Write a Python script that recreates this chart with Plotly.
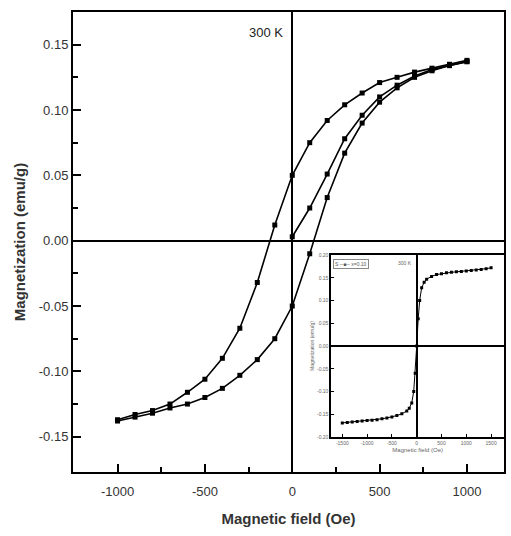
import plotly.graph_objects as go

# Main loop data (Oe, emu/g)
H_desc = [1000, 900, 800, 700, 600, 500, 400, 300, 200, 100, 0, -100, -200, -300, -400, -500, -600, -700, -800, -900, -1000]
M_desc = [0.138, 0.135, 0.132, 0.129, 0.125, 0.121, 0.113, 0.104, 0.092, 0.075, 0.050, 0.012, -0.032, -0.067, -0.090, -0.106, -0.116, -0.125, -0.130, -0.133, -0.137]

H_asc = [-1000, -900, -800, -700, -600, -500, -400, -300, -200, -100, 0, 100, 200, 300, 400, 500, 600, 700, 800, 900, 1000]
M_asc = [-0.138, -0.135, -0.132, -0.128, -0.125, -0.120, -0.113, -0.103, -0.091, -0.075, -0.050, -0.010, 0.033, 0.067, 0.090, 0.106, 0.117, 0.125, 0.130, 0.134, 0.137]

H_virgin = [0, 100, 200, 300, 400, 500, 600, 700, 800, 900, 1000]
M_virgin = [0.003, 0.025, 0.051, 0.078, 0.096, 0.110, 0.119, 0.126, 0.131, 0.134, 0.137]

# Inset data
H_inset = [-1500, -1400, -1300, -1200, -1100, -1000, -900, -800, -700, -600, -500, -400, -300, -200, -150, -100, -60, -30, 0,
           30, 60, 100, 150, 200, 300, 400, 500, 600, 700, 800, 900, 1000, 1100, 1200, 1300, 1400, 1500]
M_inset = [-0.169, -0.168, -0.167, -0.166, -0.165, -0.164, -0.163, -0.162, -0.160, -0.158, -0.156, -0.153, -0.149, -0.143, -0.137, -0.125, -0.100, -0.060, 0.000,
           0.060, 0.100, 0.128, 0.140, 0.147, 0.153, 0.157, 0.159, 0.161, 0.162, 0.163, 0.164, 0.165, 0.166, 0.167, 0.168, 0.170, 0.172]

x_ticks = [-1000, -500, 0, 500, 1000]
x_labels = ["-1000", "-500", "0", "500", "1000"]
y_ticks = [-0.15, -0.10, -0.05, 0.00, 0.05, 0.10, 0.15]
y_labels = ["-0.15", "-0.10", "-0.05", "0.00", "0.05", "0.10", "0.15"]
inset_x_ticks = [-1500, -1000, -500, 0, 500, 1000, 1500]
inset_x_labels = ["-1500", "-1000", "-500", "0", "500", "1000", "1500"]
inset_y_ticks = [-0.20, -0.15, -0.10, -0.05, 0.00, 0.05, 0.10, 0.15, 0.20]
inset_y_labels = ["-0.20", "-0.15", "-0.10", "-0.05", "0.00", "0.05", "0.10", "0.15", "0.20"]

FONT = "Liberation Sans, Arial, sans-serif"

fig = go.Figure()
main_style = dict(mode="lines+markers", line=dict(color="black", width=1.6),
                  marker=dict(symbol="square", size=5, color="black"), showlegend=False)
fig.add_trace(go.Scatter(x=H_desc, y=M_desc, **main_style))
fig.add_trace(go.Scatter(x=H_asc, y=M_asc, **main_style))
fig.add_trace(go.Scatter(x=H_virgin, y=M_virgin, **main_style))

fig.add_trace(go.Scatter(x=H_inset, y=M_inset, xaxis="x2", yaxis="y2", mode="lines+markers",
                         line=dict(color="black", width=1), marker=dict(symbol="square", size=3, color="black"),
                         showlegend=False))

fig.update_layout(
    width=511, height=536,
    margin=dict(l=73, r=5, t=12, b=64),
    paper_bgcolor="white", plot_bgcolor="white",
    font=dict(family=FONT, color="#222"),
    xaxis=dict(
        domain=[0, 1], range=[-1255, 1212], tickvals=x_ticks, ticktext=x_labels, ticks="inside", ticklen=8, tickwidth=2,
        tickcolor="black", showline=True, mirror=True, linecolor="black", linewidth=2,
        showgrid=False, zeroline=True, zerolinecolor="black", zerolinewidth=2,
        tickfont=dict(size=13, color="#333"), ticklabelstandoff=6,
        minor=dict(tickvals=[-750, -250, 250, 750], ticks="inside", ticklen=5, tickwidth=2, tickcolor="black"),
        title=dict(text="<b>Magnetic field (Oe)</b>", font=dict(size=15, color="#333"), standoff=16),
    ),
    yaxis=dict(
        domain=[0, 1], range=[-0.177, 0.175], tickvals=y_ticks, ticktext=y_labels, ticks="inside", ticklen=8,
        tickwidth=2, tickcolor="black", showline=True, mirror=True, linecolor="black", linewidth=2,
        showgrid=False, zeroline=True, zerolinecolor="black", zerolinewidth=2,
        tickfont=dict(size=13, color="#333"),
        minor=dict(tickvals=[-0.125, -0.075, -0.025, 0.025, 0.075, 0.125], ticks="inside", ticklen=5, tickwidth=2, tickcolor="black"),
        title=dict(text="<b>Magnetization (emu/g)</b>", font=dict(size=15, color="#333"), standoff=10),
    ),
    xaxis2=dict(
        domain=[0.5995, 1.0], anchor="y2", range=[-1720, 1760], tickvals=inset_x_ticks, ticktext=inset_x_labels,
        ticks="inside", ticklen=3, tickwidth=1, tickcolor="black", showline=True, mirror=True, linecolor="black",
        linewidth=2, showgrid=False, zeroline=True, zerolinecolor="black", zerolinewidth=2,
        tickfont=dict(size=5, color="#666"),
        title=dict(text="Magnetic field (Oe)", font=dict(size=6, color="#666"), standoff=3),
    ),
    yaxis2=dict(
        domain=[0.0761, 0.4717], anchor="x2", range=[-0.2, 0.2], tickvals=inset_y_ticks, ticktext=inset_y_labels,
        ticks="inside", ticklen=3, tickwidth=1, tickcolor="black", showline=True, mirror=True,
        linecolor="black", linewidth=2, showgrid=False, zeroline=True, zerolinecolor="black", zerolinewidth=2,
        tickfont=dict(size=5, color="#666"),
        title=dict(text="Magnetization (emu/g)", font=dict(size=5, color="#666"), standoff=2),
    ),
    annotations=[
        dict(text="300 K", x=-150, y=0.159, xref="x", yref="y", showarrow=False,
             font=dict(size=13, color="#222")),
        dict(text="300 K", x=-230, y=0.182, xref="x2", yref="y2", showarrow=False,
             font=dict(size=5, color="#666")),
        dict(text="S ─■─ x=0.10", x=-1690, y=0.192, xref="x2", yref="y2", xanchor="left", yanchor="top",
             showarrow=False, font=dict(size=5, color="#555"), bordercolor="#888", borderwidth=1, borderpad=1),
    ],
)

fig.write_html("out.html")
